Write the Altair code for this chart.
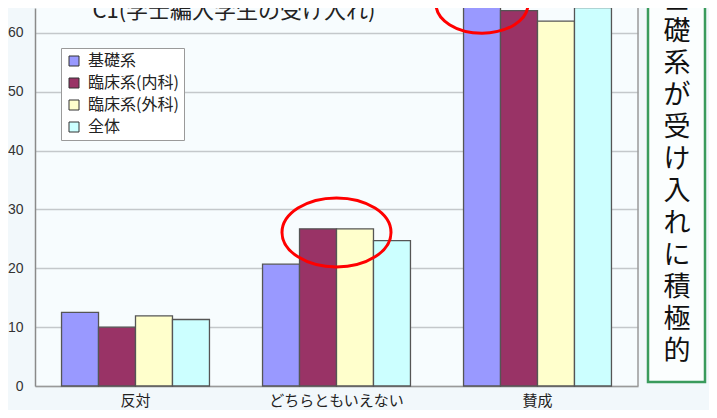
import altair as alt
import pandas as pd

categories = ["反対", "どちらともいえない", "賛成"]
series = ["基礎系", "臨床系(内科)", "臨床系(外科)", "全体"]
values_kiso = [12.5, 20.7, 66.8]
values_naika = [10.0, 26.7, 63.8]
values_geka = [11.9, 26.7, 62.0]
values_zentai = [11.3, 24.7, 64.3]
colors = ["#9999ff", "#993366", "#ffffcc", "#ccffff"]
y_ticks = [0, 10, 20, 30, 40, 50, 60]
title_text = "C1(学士編入学生の受け入れ)"
note_text = "基礎系が受け入れに積極的"

# highlighted spots (red ellipses)
hl_mid_category = ["どちらともいえない"]
hl_mid_value = [26.1]
hl_top_category = ["賛成"]
hl_top_series = ["基礎系"]
hl_top_value = [64.9]

rows = []
for s, vals in zip(series, [values_kiso, values_naika, values_geka, values_zentai]):
    for c, v in zip(categories, vals):
        rows.append({"category": c, "series": s, "value": v})
df = pd.DataFrame(rows)

JP = "Noto Sans CJK JP"

x_enc = alt.X(
    "category:N", sort=categories,
    scale=alt.Scale(paddingInner=0.264, paddingOuter=0.132),
    axis=alt.Axis(title=None, labelAngle=0, labelFontSize=15, labelColor="#222",
                  labelFont=JP, labelPadding=7, ticks=False,
                  domainColor="#9a9a9a", domainWidth=1.5),
)
y_scale = alt.Scale(domain=[0, 64.23], nice=False, zero=True)
y_enc = alt.Y(
    "value:Q", scale=y_scale,
    axis=alt.Axis(title=None, values=y_ticks, labelFontSize=14, labelColor="#333",
                  labelFont="Liberation Sans", labelPadding=12, ticks=False,
                  domainColor="#8a8a8a", domainWidth=1.5,
                  gridColor="#c4c8cb", gridWidth=1.4),
)

bars = alt.Chart(df).mark_bar(stroke="#555555", strokeWidth=1.3).encode(
    x=x_enc,
    xOffset=alt.XOffset("series:N", sort=series, scale=alt.Scale(paddingInner=0, paddingOuter=0)),
    y=y_enc,
    color=alt.Color(
        "series:N", sort=series,
        scale=alt.Scale(domain=series, range=colors),
        legend=alt.Legend(
            title=None, orient="none", legendX=26, legendY=40,
            fillColor="white", strokeColor="#9a9a9a", padding=5, cornerRadius=0,
            symbolType="square", symbolSize=100, symbolStrokeColor="#333",
            symbolStrokeWidth=1, labelFontSize=16, labelFont=JP, labelColor="#222",
            rowPadding=6, labelOffset=6,
        ),
    ),
)

ellipse_mid = alt.Chart(pd.DataFrame({"category": hl_mid_category, "value": hl_mid_value})).mark_point(
    shape="M -1 0 A 1 0.633 0 1 1 1 0 A 1 0.633 0 1 1 -1 0 Z",
    size=11881, filled=False, stroke="#ff0000", strokeWidth=3, opacity=1,
).encode(
    x=alt.X("category:N", sort=categories),
    y=alt.Y("value:Q", scale=y_scale),
)

ellipse_top = alt.Chart(pd.DataFrame({"category": hl_top_category, "series": hl_top_series,
                                       "value": hl_top_value})).mark_point(
    shape="M -1 0 A 1 0.633 0 1 1 1 0 A 1 0.633 0 1 1 -1 0 Z",
    size=8464, filled=False, stroke="#ff0000", strokeWidth=3, opacity=1,
).encode(
    x=alt.X("category:N", sort=categories),
    xOffset=alt.XOffset("series:N", sort=series),
    y=alt.Y("value:Q", scale=y_scale),
)

right_border = alt.Chart(pd.DataFrame({"a": [0]})).mark_rule(color="#9a9a9a", strokeWidth=1.5).encode(
    x=alt.value(603), y=alt.value(0), y2=alt.value(378)
)

title = alt.Chart(pd.DataFrame({"t": [title_text]})).mark_text(
    font=JP, fontSize=22, color="#222", align="center", baseline="alphabetic"
).encode(text="t:N", x=alt.value(199), y=alt.value(10))

note_box = alt.Chart(pd.DataFrame({"a": [0]})).mark_rect(
    fill="#fbfefe", stroke="#3a9b5c", strokeWidth=2.5
).encode(x=alt.value(613), x2=alt.value(670), y=alt.value(-20), y2=alt.value(374))

note = alt.Chart(pd.DataFrame({"a": [0]})).mark_text(
    text=list(note_text), font=JP, fontSize=27, lineHeight=32, color="#111",
    align="center", baseline="top",
).encode(x=alt.value(642), y=alt.value(-21))

chart = alt.layer(bars, right_border, ellipse_mid, ellipse_top, title, note_box, note).properties(
    width=603, height=378,
    padding={"left": 27, "top": 0, "right": 71, "bottom": 24},
    autosize=alt.AutoSizeParams(type="none"),
    background="#f2f8fb",
).configure_view(fill="#f7fcfe", stroke=None)

chart.save("out.html", embed_options={"renderer": "svg", "actions": False})
